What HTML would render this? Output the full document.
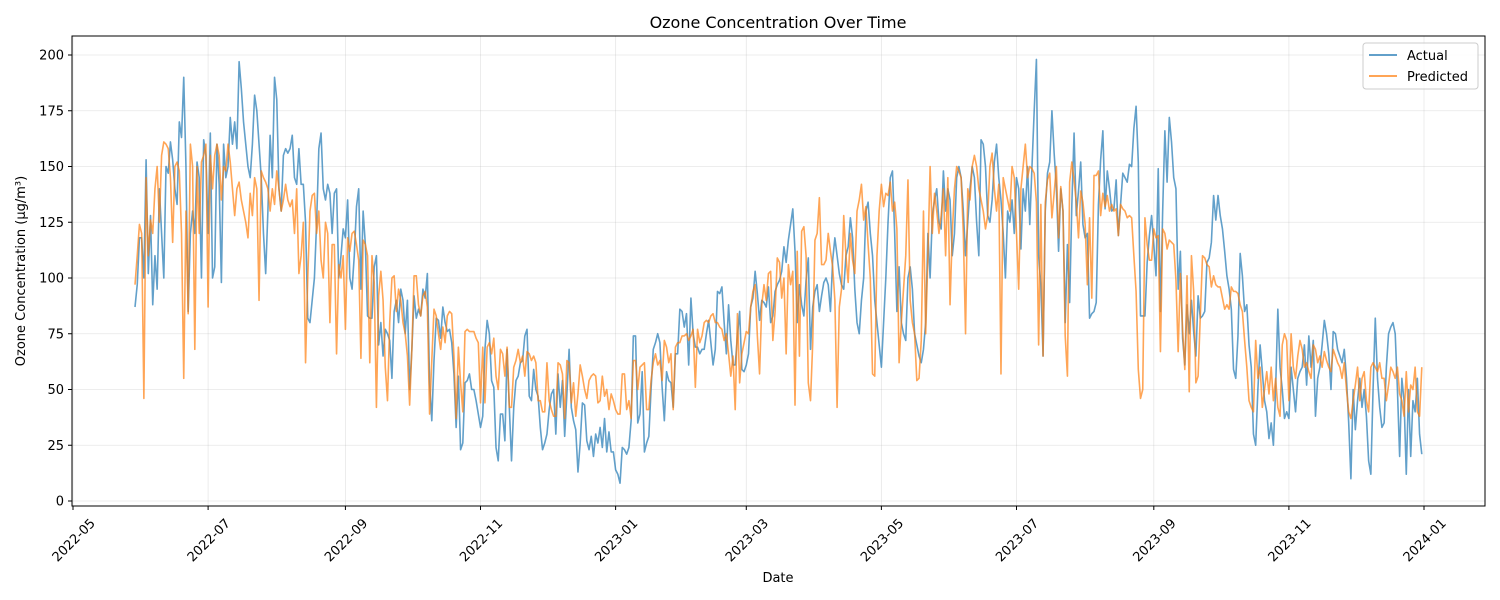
<!DOCTYPE html>
<html><head><meta charset="utf-8">
<style>
html,body{margin:0;padding:0;background:#fff;}
svg{display:block;font-family:"DejaVu Sans","Liberation Sans",sans-serif;}
</style></head>
<body>
<svg id="chart" width="1500" height="600" viewBox="0 0 1500 600">
<text x="778" y="28" text-anchor="middle" font-size="16" fill="#000">Ozone Concentration Over Time</text>
<text x="778" y="582" text-anchor="middle" font-size="13" fill="#000">Date</text>
<text x="25" y="271" text-anchor="middle" font-size="13" fill="#000" transform="rotate(-90 25 271)">Ozone Concentration (µg/m³)</text>
<g id="grid"></g>
<g id="series"></g>
<rect x="72" y="36" width="1413" height="470" fill="none" stroke="#000" stroke-width="1"/>
<g id="ticks"></g>
<g>
<rect x="1363" y="43" width="115" height="46" rx="3" fill="#fff" fill-opacity="0.8" stroke="#ccc"/>
<line x1="1369" y1="55" x2="1397" y2="55" stroke="#1f77b4" stroke-opacity="0.7" stroke-width="2"/>
<text x="1407" y="60" font-size="13">Actual</text>
<line x1="1369" y1="76" x2="1397" y2="76" stroke="#ff7f0e" stroke-opacity="0.7" stroke-width="2"/>
<text x="1407" y="81" font-size="13">Predicted</text>
</g>
</svg>
<script>
const startDate = "2022-05-29";
const yTicks = [0,25,50,75,100,125,150,175,200];
const xTickLabels = ["2022-05","2022-07","2022-09","2022-11","2023-01","2023-03","2023-05","2023-07","2023-09","2023-11","2024-01"];
const actual = [].concat(
[87,97,118,118,100,153,102,128,88,110,95,140,120,100,150,147,161,153,140,133,170,163,190,150,85,120,130,120,152,145,100,162,155,120,165,100,105],
[160,142,98,160,145,150,172,160,170,158,197,185,170,160,150,145,160,182,175,160,145,120,102,130,164,145,190,180,140,130,155],
[158,156,158,164,145,142,158,142,142,125,82,80,90,100,125,158,165,140,135,142,138,120,138,140,100,110,122,118,135,100,95],
[110,132,140,95,130,115,83,82,82,105,110,70,80,65,77,75,72,55,85,90,80,95,90],
[75,90,50,68,92,82,86,83,95,91,102,53,36,63,82,81,73,87,80,76,77,71,57,33,56,23,26,53,54,57,50,50,45,39,33,38,68,81,75,54,51,24,18,39,39,27,68,42,18,42,54,56,62,63,74,77,47,45,59,50,47,33,23,26],
[30,41,48,50,30,57,42,54,29,48,68,42,36,32,13,26,44,43,27,23,29,20,30,26,33,24,37,22,31,22,22,14,12,8,24,23,21,24,36,74,74,35,39,58,22,26,29,50,68,71,75,71,51,36,58,54,53,42,66,66],
[86,85,78,84,61,91,75,69,69,66,68,68,75,81,71,61,68,94,93,96,80,66,88,72,61,61,74,85,59,58,61,66,87,91,103,93,81,90,89,87,96,80,83,94,97,99,103,114,107,117,124,131,112,80,97,88,83,99,109,68,87,94,97,85,92],
[98,100,97,85,108,118,110,102,97,95,110,114,127,118,95,80,75,90,100,130,134,120,110,90,80,70,60,80,100,125],
[145,148,120,85,105,80,75,72,100,105,95,75,70,65,62,68,80,120,100,128,135,140,125,122,148,130,140,135,110,120,145],
[150,145,130,110,125,140,150,145,125,110,162,160,150,128,125,135,152,160,145,135,120,100,130,125,135,120,145,140,113,140],
[130,150],
[124,150,175,198,110,97,65,130,147,152,175,156,141,112,140,130,80,115,89,133,165,128,139,152,124,118,120,82,84,85,89,133,153,166,131,148,140,130,131,144,119,133,147,145,143,151,150,167,177,152],
[83,83,83,107,119,128,115,101,149,85,130,166,143,172,161,145,140,95,112,73,61,88,75,90,76,65,92,82,83,85,107,109,116,137,126,137,128,122,112,101,95,86,59,55,74,111,101],
[85,88,70,60,30,25,50,70,58,45,40,28,35,25,50,86,60,50,37,40],
[37,60,50,40,55,58,60,70,52,74,60,72,38,55,60,70,81,75,66,50,76,75,68,65,62,68,55,35,10,50],
[32,45,55,42,50,38,18,12,50,82,55,42,33,35,60,75,78,80,75,50,20,55,45,12,50,20,45,40,55,30,21]
);
const predicted = [].concat(
[97,110,124,120,46,145,110,126,120,140,150,125,155,161,160,158,145,116,150,152,148,120,55,130,84,160,150,68,150,120,152,155,160,87,155,140,155],
[160,155,135,150,148,160,152,140,128,140,143,135,130,125,118,138,128,145,140,90,148,145,143,140,130,140,133,148,140,130,135],
[142,135,132,135,120,140,102,110,125,62,100,130,137,138,120,130,108,100,125,120,80,115,115,66,106,100,110,77,118,112,120],
[121,115,108,64,117,115,110,62,110,98,42,92,103,90,60,45,80,100,101,85,95,90,80],
[75,65,43,68,101,101,88,83,92,94,87,39,63,86,83,75,68,78,71,83,85,84,65,37,69,53,40,76,77,76,76,76,73,71,44,69,44,69,71,66,73,56,50,68,66,56,69,42,42,60,63,68,62,65,56,67,66,63,65,62,45,45,40,40],
[62,45,41,38,38,62,61,57,37,63,62,44,53,38,48,61,56,50,46,54,56,57,56,44,45,56,47,50,41,48,45,41,39,39,57,57,41,45,37,63,63,50,60,61,62,41,41,54,62,66,61,63,54,72,69,62,66,41,69,71],
[71,74,74,75,72,74,77,51,77,71,74,80,81,80,83,84,80,80,78,77,72,75,66,56,65,41,84,53,66,71,76,75,87,94,97,74,57,88,97,90,102,103,72,85,109,107,91,100,66,106,97,103,43,112,65,121,123,110,53,45,71,117,120,136,106],
[106,108,120,112,105,90,42,87,95,128,110,98,120,108,102,130,135,142,126,132,115,100,57,56,110,130,142,132,138,137],
[143,130,134,122,62,80,95,110,144,90,80,75,54,55,72,130,75,110,150,120,138,130,120,128,140,110,145,88,120,140,150],
[148,145,120,75,140,135,150,155,150,140,135,130,122,128,150,156,140,130,142,57,145,140,135,130,150,145,120,95,140,150],
[160,145],
[150,149,147,134,70,133,65,134,144,147,127,138,150,118,141,130,74,56,143,152,144,134,118,139,134,124,97,127,91,146,146,148,128,138,132,137,130,133,130,131,119,133,131,130,127,128,127,110,94,59],
[46,50,127,115,108,108,122,118,119,67,122,120,113,117,116,115,99,67,102,77,59,101,49,110,94,53,56,83,110,109,106,105,96,101,97,96,96,91,86,88,86,96,94,94,93,88,85],
[72,60,45,42,40,72,55,60,42,50,58,48,60,45,55,42,38,70,75,72],
[45,75,60,55,65,72,68,60,62,58,55,70,68,62,65,60,67,63,60,58,68,65,62,60,55,62,50,40,37,45],
[52,60,45,55,58,45,40,60,62,60,58,62,55,55,45,52,60,58,55,60,48,45,38,58,40,52,50,60,40,38,60]
);

const NS = "http://www.w3.org/2000/svg";
const DAY = 86400000;
const t0 = Date.parse(startDate + "T00:00:00Z");
const ref0 = Date.parse("2022-05-01T00:00:00Z");
function xScale(dayOffset){
  const daysFromRef = (t0 - ref0)/DAY + dayOffset;
  return 73 + daysFromRef * (1351/610);
}
function yScale(v){ return 501 - v * (446/200); }

const grid = document.getElementById("grid");
const ticks = document.getElementById("ticks");
yTicks.forEach(v=>{
  const y = yScale(v);
  const g = document.createElementNS(NS,"line");
  g.setAttribute("x1",72); g.setAttribute("x2",1485); g.setAttribute("y1",y); g.setAttribute("y2",y);
  g.setAttribute("stroke","#b0b0b0"); g.setAttribute("stroke-opacity","0.3"); g.setAttribute("stroke-width","0.8");
  
  
  grid.appendChild(g);
  const tk = document.createElementNS(NS,"line");
  tk.setAttribute("x1",68); tk.setAttribute("x2",72); tk.setAttribute("y1",y); tk.setAttribute("y2",y);
  tk.setAttribute("stroke","#000");
  
  
  ticks.appendChild(tk);
  const t = document.createElementNS(NS,"text");
  t.setAttribute("x",64); t.setAttribute("y",y+4.5); t.setAttribute("text-anchor","end"); t.setAttribute("font-size","13");
  t.textContent = v;
  
  
  ticks.appendChild(t);
});
xTickLabels.forEach(lbl=>{
  const d = (Date.parse(lbl + "-01T00:00:00Z") - t0)/DAY;
  const x = xScale(d);
  const g = document.createElementNS(NS,"line");
  g.setAttribute("x1",x); g.setAttribute("x2",x); g.setAttribute("y1",36); g.setAttribute("y2",506);
  g.setAttribute("stroke","#b0b0b0"); g.setAttribute("stroke-opacity","0.3"); g.setAttribute("stroke-width","0.8");
  
  
  grid.appendChild(g);
  const tk = document.createElementNS(NS,"line");
  tk.setAttribute("x1",x); tk.setAttribute("x2",x); tk.setAttribute("y1",506); tk.setAttribute("y2",510);
  tk.setAttribute("stroke","#000");
  
  
  ticks.appendChild(tk);
  const t = document.createElementNS(NS,"text");
  const cx = x + 0.5, cy = 540;
  t.setAttribute("x",cx); t.setAttribute("y",cy+4.5); t.setAttribute("text-anchor","middle"); t.setAttribute("font-size","13");
  t.setAttribute("transform","rotate(-45 "+cx+" "+cy+")");
  t.textContent = lbl;
  
  
  ticks.appendChild(t);
});
function drawLine(vals, color, name){
  const p = document.createElementNS(NS,"path");
  const d = vals.map((v,i)=>(i?"L":"M")+xScale(i).toFixed(2)+","+yScale(v).toFixed(2)).join("");
  p.setAttribute("d",d); p.setAttribute("fill","none"); p.setAttribute("stroke",color);
  p.setAttribute("stroke-opacity","0.7"); p.setAttribute("stroke-width","1.6"); p.setAttribute("stroke-linejoin","round");
  
  
  document.getElementById("series").appendChild(p);
}
drawLine(actual,"#1f77b4","actual-line");
drawLine(predicted,"#ff7f0e","predicted-line");
</script>
</body></html>
